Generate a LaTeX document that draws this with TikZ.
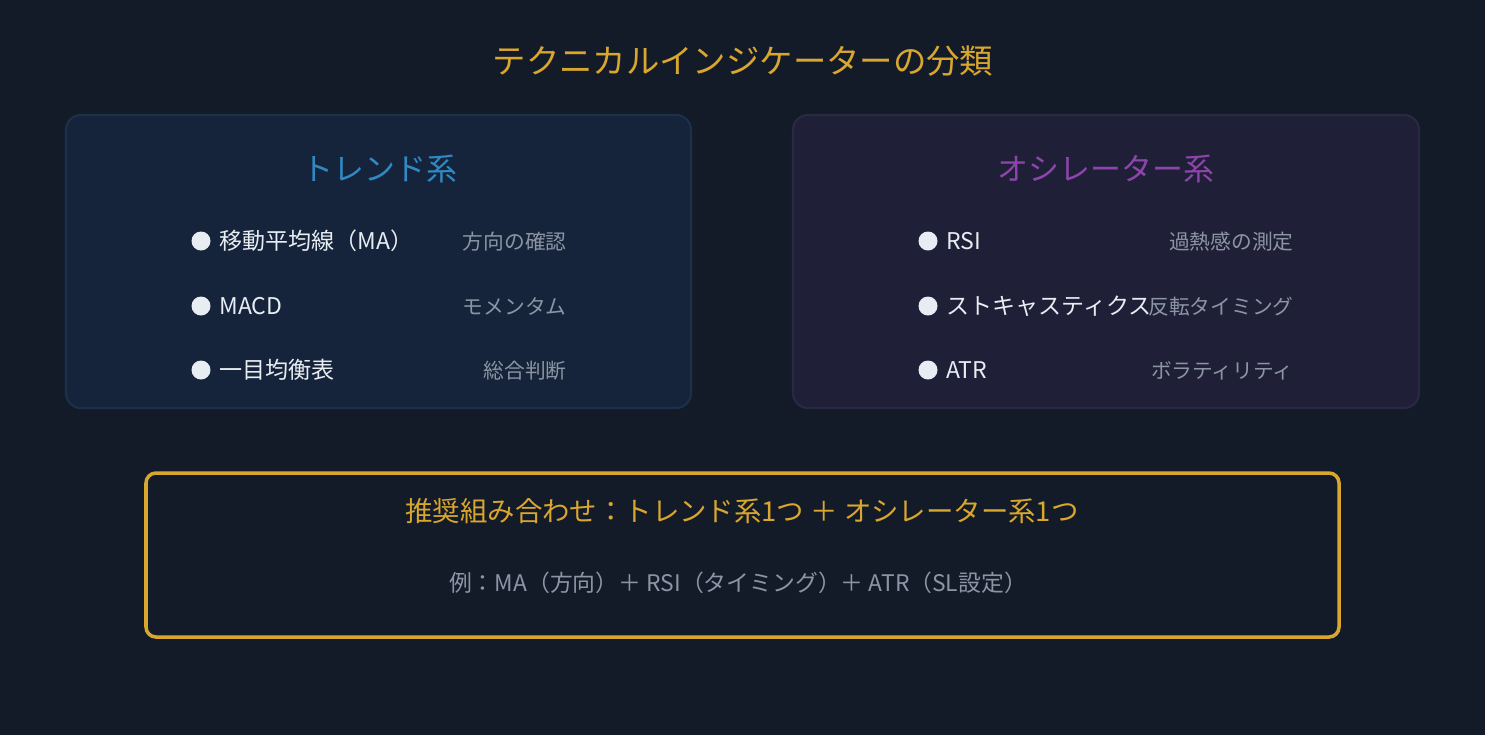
\documentclass[tikz,border=0pt]{standalone}
\usepackage{fontspec}
\setmainfont{Noto Sans CJK JP}
\usepackage{xcolor}
\definecolor{bgcol}{HTML}{131B29}
\definecolor{trendfill}{HTML}{15243A}
\definecolor{trendline}{HTML}{1D3049}
\definecolor{oscfill}{HTML}{1F1F37}
\definecolor{oscline}{HTML}{2A2843}
\definecolor{gold}{HTML}{D9A62E}
\definecolor{trendblue}{HTML}{3189C4}
\definecolor{oscpurple}{HTML}{8E44AD}
\definecolor{itemcol}{HTML}{E8EDF3}
\definecolor{desccol}{HTML}{8C95A3}

\begin{document}
\begin{tikzpicture}[x=0.02cm,y=-0.02cm,
    itemtext/.style={anchor=west,text=itemcol,inner sep=0pt,yshift=-0.06cm,
        text height=0.8em,text depth=0.12em,font=\fontsize{13.1}{15}\selectfont},
    desctext/.style={anchor=east,text=desccol,inner sep=0pt,yshift=-0.06cm,
        text height=0.8em,text depth=0.12em,font=\fontsize{11.8}{14}\selectfont},
    bulletdot/.style={fill=itemcol,draw=none}]
    \fill[bgcol] (0,0) rectangle (1485,735);
    \useasboundingbox (0,0) rectangle (1485,735);

    \node[text=gold,font=\fontsize{19}{22}\selectfont] (title) at (743,61)
        {テクニカルインジケーターの分類};

    % trend box
    \filldraw[draw=trendline,fill=trendfill,line width=1.2pt,rounded corners=0.3cm]
        (66,115) rectangle (691,408);
    \node[text=trendblue,font=\fontsize{17.6}{20}\selectfont] (trendhead) at (380,169)
        {トレンド系};
    \filldraw[bulletdot] (201,241) circle (9.5);
    \node[itemtext] (ma) at (219,241) {移動平均線（MA）};
    \node[desctext] (madesc) at (567,241) {方向の確認};
    \filldraw[bulletdot] (201,306) circle (9.5);
    \node[itemtext] (macd) at (219,306) {MACD};
    \node[desctext] (macddesc) at (567,306) {モメンタム};
    \filldraw[bulletdot] (201,370) circle (9.5);
    \node[itemtext] (ichimoku) at (219,370) {一目均衡表};
    \node[desctext] (ichimokudesc) at (567,370) {総合判断};

    % oscillator box
    \filldraw[draw=oscline,fill=oscfill,line width=1.2pt,rounded corners=0.3cm]
        (793,115) rectangle (1419,408);
    \node[text=oscpurple,font=\fontsize{17.6}{20}\selectfont] (oschead) at (1106,169)
        {オシレーター系};
    \filldraw[bulletdot] (928,241) circle (9.5);
    \node[itemtext] (rsi) at (946,241) {RSI};
    \node[desctext] (rsidesc) at (1294,241) {過熱感の測定};
    \filldraw[bulletdot] (928,306) circle (9.5);
    \node[itemtext] (stoch) at (946,306) {ストキャスティクス};
    \node[desctext] (stochdesc) at (1294,306) {反転タイミング};
    \filldraw[bulletdot] (928,370) circle (9.5);
    \node[itemtext] (atr) at (946,370) {ATR};
    \node[desctext] (atrdesc) at (1294,370) {ボラティリティ};

    % recommendation
    \draw[gold,line width=2pt,rounded corners=0.2cm] (146,473) rectangle (1339,637);
    \node[text=gold,font=\fontsize{15.6}{18}\selectfont] (combo) at (742,511)
        {推奨組み合わせ：トレンド系1つ ＋ オシレーター系1つ};
    \node[text=desccol,font=\fontsize{13}{15}\selectfont] (example) at (738,583)
        {例：MA（方向）＋ RSI（タイミング）＋ ATR（SL設定）};
\end{tikzpicture}
\end{document}
